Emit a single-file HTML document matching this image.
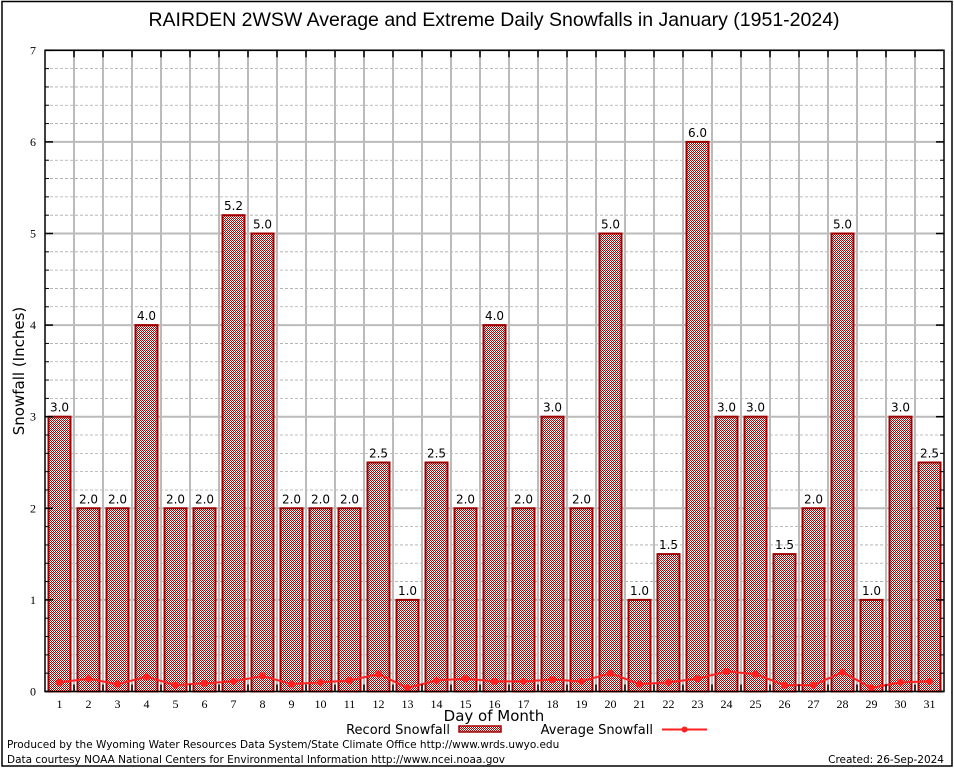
<!DOCTYPE html>
<html><head><meta charset="utf-8"><style>
html,body{margin:0;padding:0;background:#fff;}
svg{display:block;font-family:"DejaVu Sans","Liberation Sans",sans-serif;}
</style></head><body>
<svg id="chart" width="954" height="768" xmlns="http://www.w3.org/2000/svg">
<defs>
<pattern id="hatch" width="2" height="2" patternUnits="userSpaceOnUse">
<rect width="2" height="2" fill="#fff"/><rect width="1" height="1" fill="#b00000"/><rect x="1" y="1" width="1" height="1" fill="#b00000"/>
</pattern>
</defs>
<rect x="2" y="1.5" width="950" height="764.5" fill="none" stroke="#000" stroke-width="1.5"/>
<text x="494" y="26" font-size="19.5" text-anchor="middle" fill="#000" font-family="Liberation Sans, sans-serif">RAIRDEN 2WSW Average and Extreme Daily Snowfalls in January (1951-2024)</text>
<g id="grid"></g>
<g id="bars"></g>
<g id="avg"></g>
<g id="axes"></g>
<text transform="translate(24,371) rotate(-90)" font-size="15" text-anchor="middle">Snowfall (Inches)</text>
<text x="494" y="721" font-size="15" text-anchor="middle">Day of Month</text>
<g>
<text x="450" y="734" font-size="13" text-anchor="end">Record Snowfall</text>
<rect x="459" y="726" width="42" height="6" fill="url(#hatch)" stroke="#a00000" stroke-width="1.5"/>
<text x="653" y="734" font-size="13" text-anchor="end">Average Snowfall</text>
<line x1="662" y1="729.5" x2="707" y2="729.5" stroke="#ff2020" stroke-width="2"/>
<circle cx="684.5" cy="729.5" r="3" fill="#ff2020"/>
</g>
<text x="7" y="748" font-size="10.5">Produced by the Wyoming Water Resources Data System/State Climate Office http://www.wrds.uwyo.edu</text>
<text x="7" y="763" font-size="10.5">Data courtesy NOAA National Centers for Environmental Information http://www.ncei.noaa.gov</text>
<text x="944" y="763" font-size="10.5" text-anchor="end">Created: 26-Sep-2024</text>
</svg>
<script>
const days = [1,2,3,4,5,6,7,8,9,10,11,12,13,14,15,16,17,18,19,20,21,22,23,24,25,26,27,28,29,30,31];
const recordSnow = [3.0,2.0,2.0,4.0,2.0,2.0,5.2,5.0,2.0,2.0,2.0,2.5,1.0,2.5,2.0,4.0,2.0,3.0,2.0,5.0,1.0,1.5,6.0,3.0,3.0,1.5,2.0,5.0,1.0,3.0,2.5];
const avgSnow = [0.10,0.14,0.08,0.16,0.07,0.09,0.11,0.17,0.08,0.10,0.12,0.19,0.04,0.12,0.14,0.11,0.11,0.13,0.11,0.20,0.08,0.10,0.14,0.22,0.19,0.07,0.07,0.21,0.04,0.10,0.11];
const yTicks = [0,1,2,3,4,5,6,7];

const NS="http://www.w3.org/2000/svg";
const L=45,R=944,T=50.3,B=691.5,YMAX=7;
const bw=(R-L)/days.length;
const xc=d=>L+(d-0.5)*bw;
const y=v=>B-(v/YMAX)*(B-T);
function mk(tag,parent,attrs){const e=document.createElementNS(NS,tag);for(const k in attrs)e.setAttribute(k,attrs[k]);parent.appendChild(e);return e;}
const grid=document.getElementById('grid'),bars=document.getElementById('bars'),avg=document.getElementById('avg'),axes=document.getElementById('axes');
for(let i=1;i<YMAX*5;i++){ if(i%5===0)continue;
 const g=mk('line',grid,{x1:L,x2:R,y1:y(i/5),y2:y(i/5),stroke:'#aaa','stroke-width':0.8,'stroke-dasharray':'3,2'});
 
 
 mk('line',axes,{x1:L,x2:L+4,y1:y(i/5),y2:y(i/5),stroke:'#000','stroke-width':1});
 mk('line',axes,{x1:R-4,x2:R,y1:y(i/5),y2:y(i/5),stroke:'#000','stroke-width':1});
}
yTicks.forEach(t=>{
 const g=mk('line',grid,{x1:L,x2:R,y1:y(t),y2:y(t),stroke:'#bbb','stroke-width':2});
 
 
 mk('line',axes,{x1:L,x2:L+8,y1:y(t),y2:y(t),stroke:'#000','stroke-width':1.5});
 mk('line',axes,{x1:R-8,x2:R,y1:y(t),y2:y(t),stroke:'#000','stroke-width':1.5});
 const tx=mk('text',axes,{x:L-9,y:y(t)+4,'font-size':12,'text-anchor':'end','font-family':'Liberation Serif, serif'});
 tx.textContent=t;
 
 
});
for(let i=1;i<days.length;i++){
 const xx=L+i*bw;
 const g=mk('line',grid,{x1:xx,x2:xx,y1:T,y2:B,stroke:'#bbb','stroke-width':2});
 
 
 mk('line',axes,{x1:xx,x2:xx,y1:T,y2:T+7,stroke:'#000','stroke-width':1.5});
 mk('line',axes,{x1:xx,x2:xx,y1:B-7,y2:B,stroke:'#000','stroke-width':1.5});
}
days.forEach((d,i)=>{
 const v=recordSnow[i];
 const r=mk('rect',bars,{x:xc(d)-11,y:y(v),width:22,height:B-y(v),fill:'url(#hatch)',stroke:'#a00000','stroke-width':2});
 
 
 const lb=mk('text',bars,{x:xc(d),y:y(v)-5,'font-size':12,'text-anchor':'middle'});
 lb.textContent=v.toFixed(1);
 
 
 const xl=mk('text',axes,{x:xc(d),y:708,'font-size':12,'text-anchor':'middle','font-family':'Liberation Serif, serif'});
 xl.textContent=d;
 
 
});
const pts=days.map((d,i)=>xc(d)+','+y(avgSnow[i])).join(' ');
const pl=mk('polyline',avg,{points:pts,fill:'none',stroke:'#ff2020','stroke-width':2});


days.forEach((d,i)=>{
 const c=mk('circle',avg,{cx:xc(d),cy:y(avgSnow[i]),r:3.5,fill:'#ff2020'});
 
 
});
const fr=mk('rect',axes,{x:L,y:T,width:R-L,height:B-T,fill:'none',stroke:'#000','stroke-width':1.5});


</script>
</body></html>
